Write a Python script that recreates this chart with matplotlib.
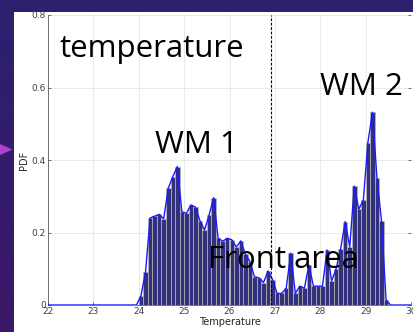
import numpy as np
import matplotlib
matplotlib.use("Agg")
import matplotlib.pyplot as plt
from matplotlib.patches import Rectangle, Polygon

# histogram of temperature, bins of 0.1 starting at 24.0
bin_width = 0.1
pdf_vals = [0.026, 0.092, 0.240, 0.245, 0.250, 0.238, 0.322, 0.354, 0.382, 0.257,
            0.253, 0.276, 0.270, 0.232, 0.207, 0.248, 0.296, 0.184, 0.176, 0.184,
            0.180, 0.160, 0.177, 0.140, 0.120, 0.078, 0.075, 0.062, 0.094, 0.070,
            0.032, 0.032, 0.046, 0.143, 0.032, 0.052, 0.046, 0.110, 0.052, 0.052,
            0.052, 0.152, 0.066, 0.100, 0.155, 0.230, 0.160, 0.328, 0.264, 0.290,
            0.448, 0.532, 0.350, 0.232, 0.014]
bin_left = np.round(24.0 + bin_width * np.arange(len(pdf_vals)), 2)

x_ticks = [22, 23, 24, 25, 26, 27, 28, 29, 30]
y_ticks = [0, 0.2, 0.4, 0.6, 0.8]
y_ticklabels = ["0", "0.2", "0.4", "0.6", "0.8"]
front_x = 26.92

labels = ["temperature", "WM 1", "WM 2", "Front area"]
label_pos = [(22.26, 0.684), (24.35, 0.419), (27.99, 0.579), (25.52, 0.102)]

W, H = 413, 332
fig = plt.figure(figsize=(W / 100, H / 100), dpi=100)
fig.patch.set_facecolor("#33196b")

# slide background gradient
bg = fig.add_axes([0, 0, 1, 1], zorder=-10)
grad = np.linspace(0, 1, 100).reshape(-1, 1)
bg.imshow(grad, aspect="auto", extent=[0, 1, 0, 1],
          cmap=matplotlib.colors.LinearSegmentedColormap.from_list("p", ["#2c2170", "#3c1868"]))
bg.set_axis_off()
fig.patches.append(Rectangle((14 / W, 0), 1, (H - 12) / H, transform=fig.transFigure,
                             facecolor="white", edgecolor="none", zorder=-5))
fig.patches.append(Polygon([[0, 1 - 144 / H], [12.5 / W, 1 - 149.5 / H], [0, 1 - 155 / H]],
                           closed=True, transform=fig.transFigure,
                           facecolor="#b23fd0", edgecolor="none", zorder=-4))

ax = fig.add_axes([48 / W, (H - 305) / H, (411 - 48) / W, (305 - 15) / H])
ax.set_facecolor("white")

ax.bar(bin_left, pdf_vals, width=bin_width, align="edge", color="#33307c",
       edgecolor="#b8b8b8", linewidth=0.5, zorder=2)

centers = bin_left + bin_width / 2
line_x = np.concatenate([[22.0, 23.95], centers, [centers[-1] + bin_width, 30.0]])
line_y = np.concatenate([[0, 0], pdf_vals, [0, 0]])
ax.plot(line_x, line_y, color="#1a1aff", linewidth=1.0, zorder=3)

ax.axvline(front_x, color="black", linestyle=(0, (2.5, 1.5)), linewidth=0.8, zorder=4)

for txt, (x, y) in zip(labels, label_pos):
    ax.text(x, y, txt, fontsize=22.5, family="Open Sans", color="black",
            ha="left", va="baseline", zorder=5)

ax.set_xlim(22, 30)
ax.set_ylim(0, 0.8)
ax.set_xticks(x_ticks)
ax.set_yticks(y_ticks)
ax.set_yticklabels(y_ticklabels)
ax.grid(True, color="#e6e6e6", linewidth=0.6, zorder=0)
ax.set_axisbelow(True)
ax.tick_params(direction="in", length=2.5, width=0.5, labelsize=6.5,
               colors="#404040", right=True, pad=1.5)
ax.spines["top"].set_visible(False)
ax.spines["right"].set_visible(False)
for s in ax.spines.values():
    s.set_color("#404040")
    s.set_linewidth(0.5)
ax.set_xlabel("Temperature", fontsize=7, color="#262626", labelpad=1)
ax.set_ylabel("PDF", fontsize=7, color="#262626", labelpad=2)

fig.savefig("out.png", dpi=100)
